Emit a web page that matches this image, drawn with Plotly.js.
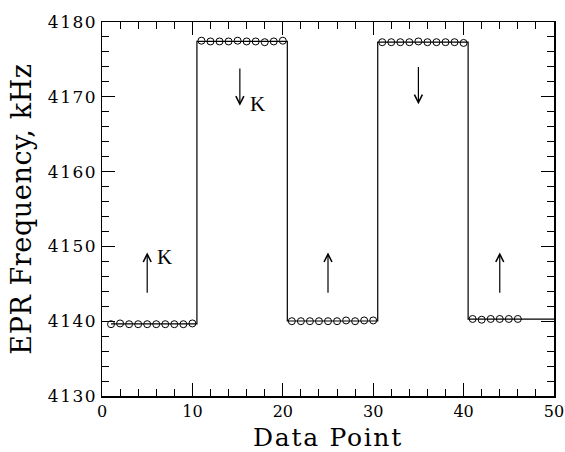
<!DOCTYPE html>
<html>
<head>
<meta charset="utf-8">
<script src="https://cdn.plot.ly/plotly-3.0.1.min.js"></script>
<style>
html,body{margin:0;padding:0;background:#fff;}
#chart{width:565px;height:452px;}
.ytick text{letter-spacing:1.5px;}
.xtitle{letter-spacing:1.7px;}
.ytitle{letter-spacing:0.6px;}
</style>
</head>
<body>
<div id="chart"></div>
<script>
// Measured data points
var pointX = [1,2,3,4,5,6,7,8,9,10,
              11,12,13,14,15,16,17,18,19,20,
              21,22,23,24,25,26,27,28,29,30,
              31,32,33,34,35,36,37,38,39,40,
              41,42,43,44,45,46];
var pointY = [4139.6,4139.7,4139.6,4139.6,4139.6,4139.6,4139.6,4139.6,4139.6,4139.7,
              4177.5,4177.4,4177.4,4177.4,4177.5,4177.4,4177.4,4177.3,4177.4,4177.5,
              4140.0,4140.0,4140.0,4140.0,4140.0,4140.0,4140.1,4140.0,4140.1,4140.1,
              4177.3,4177.3,4177.3,4177.3,4177.4,4177.3,4177.3,4177.3,4177.3,4177.2,
              4140.3,4140.2,4140.3,4140.3,4140.3,4140.3];
// Step fit: segment boundaries and levels
var segStart = [1, 10.5, 20.5, 30.5, 40.5];
var segEnd   = [10.5, 20.5, 30.5, 40.5, 50];
var segLevel = [4139.65, 4177.42, 4140.03, 4177.3, 4140.28];
// Field-direction arrows
var arrowX    = [5, 15.25, 25, 35, 44];
var arrowTail = [4143.6, 4174.0, 4143.6, 4174.2, 4143.6];
var arrowHead = [4149.2, 4168.8, 4149.2, 4169.0, 4149.2];
var arrowText = ['K', 'K', '', '', ''];
var xTickVals = [0,10,20,30,40,50];
var yTickVals = [4130,4140,4150,4160,4170,4180];

var lineX = [], lineY = [];
for (var i = 0; i < segStart.length; i++) {
  lineX.push(segStart[i]); lineY.push(segLevel[i]);
  lineX.push(segEnd[i]);   lineY.push(segLevel[i]);
}

var fontFam = '"DejaVu Serif", "Liberation Serif", serif';
var annotations = [];
for (var j = 0; j < arrowX.length; j++) {
  annotations.push({
    x: arrowX[j], y: arrowHead[j], ax: arrowX[j], ay: arrowTail[j],
    xref: 'x', yref: 'y', axref: 'x', ayref: 'y',
    showarrow: true, arrowhead: 5, arrowsize: 1.3, arrowwidth: 1.2, arrowcolor: '#000', text: ''
  });
  if (arrowText[j]) {
    var down = arrowHead[j] < arrowTail[j];
    annotations.push({
      x: arrowX[j] + 0.9, y: down ? arrowHead[j] + 0.2 : arrowHead[j] - 0.6,
      xref: 'x', yref: 'y', xanchor: 'left', yanchor: 'middle',
      showarrow: false, text: arrowText[j],
      font: {family: '"Liberation Serif", "Times New Roman", serif', size: 21, color: '#000'}
    });
  }
}

var traces = [
  {x: lineX, y: lineY, mode: 'lines', line: {color: '#000', width: 1.2}, hoverinfo: 'skip', showlegend: false},
  {x: pointX, y: pointY, mode: 'markers', marker: {symbol: 'circle-open', size: 7, color: '#000', line: {width: 1}}, showlegend: false}
];

var layout = {
  width: 565, height: 452,
  margin: {l: 102, r: 11, t: 22, b: 56},
  paper_bgcolor: '#fff', plot_bgcolor: '#fff',
  font: {family: fontFam, color: '#000'},
  xaxis: {
    range: [0, 50], tickvals: xTickVals, ticks: 'inside', ticklen: 13, tickwidth: 1.2,
    tickcolor: '#000', showline: true, linecolor: '#000', linewidth: 1.5, mirror: 'allticks',
    showgrid: false, zeroline: false, tickfont: {size: 16, family: fontFam},
    ticklabeloverflow: 'allow', automargin: false,
    minor: {dtick: 2, ticks: 'inside', ticklen: 7, tickwidth: 1, tickcolor: '#000', showgrid: false},
    title: {text: 'Data Point', font: {size: 25, family: fontFam}, standoff: 12}
  },
  yaxis: {
    range: [4130, 4180], tickvals: yTickVals, ticks: 'inside', ticklen: 13, tickwidth: 1.2,
    tickcolor: '#000', showline: true, linecolor: '#000', linewidth: 1.5, mirror: 'allticks',
    showgrid: false, zeroline: false, tickfont: {size: 17, family: fontFam}, automargin: false,
    minor: {dtick: 2, ticks: 'inside', ticklen: 7, tickwidth: 1, tickcolor: '#000', showgrid: false},
    title: {text: 'EPR Frequency, kHz', font: {size: 27, family: fontFam}, standoff: 8}
  },
  annotations: annotations
};

Plotly.newPlot('chart', traces, layout, {displayModeBar: false, staticPlot: true});
</script>
</body>
</html>
